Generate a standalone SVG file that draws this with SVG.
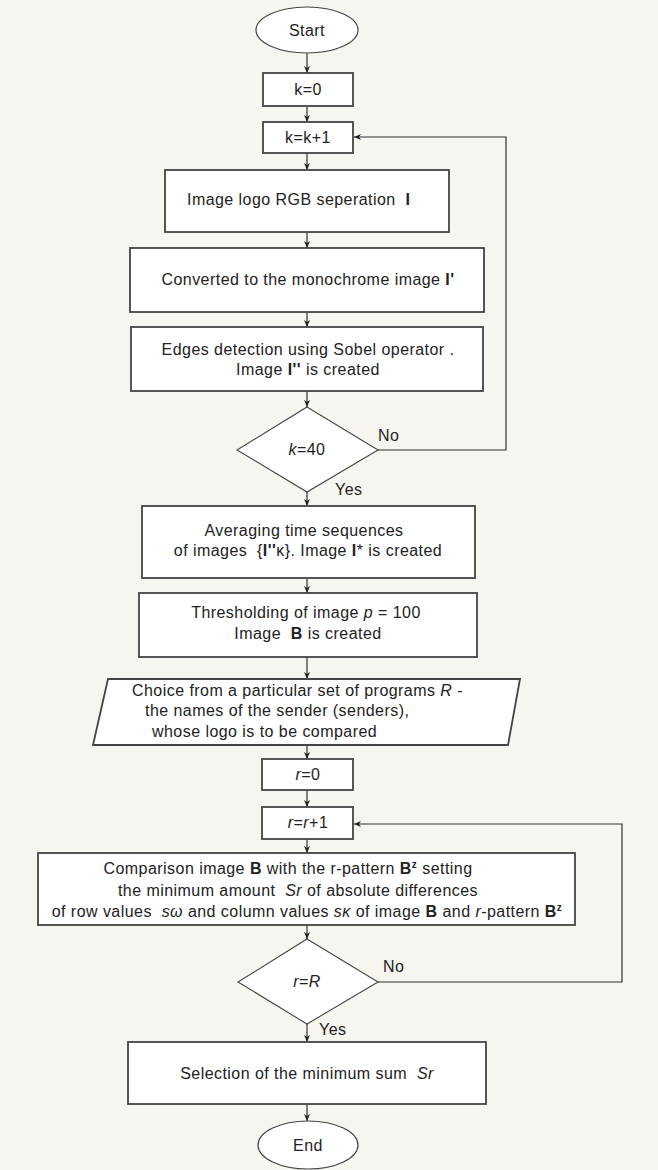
<svg xmlns="http://www.w3.org/2000/svg" width="658" height="1170" viewBox="0 0 658 1170">
<style>
text{font-family:"Liberation Sans",Arial,sans-serif;font-size:16px;fill:#222;letter-spacing:0.45px;white-space:pre}
.c{text-anchor:middle}
.b{font-weight:bold}
.i{font-style:italic}
.box{fill:#fff;stroke:#444;stroke-width:1.8}
.dia{fill:#fff;stroke:#444;stroke-width:1.1}
.ell{fill:#fff;stroke:#444;stroke-width:1.2}
.con{fill:none;stroke:#333;stroke-width:1.2}
.sup{font-size:10px;font-weight:bold}
</style>
<defs>
<marker id="ah" markerWidth="8" markerHeight="7" refX="7" refY="3.5" orient="auto" markerUnits="userSpaceOnUse">
<path d="M0,0.5 L7,3.5 L0,6.5 L2,3.5 z" fill="#222"/>
</marker>
</defs>
<rect width="658" height="1170" fill="#f7f5f0"/>
<g id="connectors">
<line class="con" x1="307" y1="53" x2="307" y2="73" marker-end="url(#ah)"/>
<line class="con" x1="307" y1="106" x2="307" y2="122" marker-end="url(#ah)"/>
<line class="con" x1="307" y1="153" x2="307" y2="170" marker-end="url(#ah)"/>
<line class="con" x1="307" y1="232" x2="307" y2="248" marker-end="url(#ah)"/>
<line class="con" x1="307" y1="312" x2="307" y2="327" marker-end="url(#ah)"/>
<line class="con" x1="307" y1="391" x2="307" y2="407" marker-end="url(#ah)"/>
<line class="con" x1="307" y1="492" x2="307" y2="506" marker-end="url(#ah)"/>
<line class="con" x1="307" y1="578" x2="307" y2="593" marker-end="url(#ah)"/>
<line class="con" x1="307" y1="657" x2="307" y2="679" marker-end="url(#ah)"/>
<line class="con" x1="307" y1="745" x2="307" y2="759" marker-end="url(#ah)"/>
<line class="con" x1="307" y1="790" x2="307" y2="807" marker-end="url(#ah)"/>
<line class="con" x1="307" y1="839" x2="307" y2="853" marker-end="url(#ah)"/>
<line class="con" x1="307" y1="925" x2="307" y2="939" marker-end="url(#ah)"/>
<line class="con" x1="307" y1="1024" x2="307" y2="1042" marker-end="url(#ah)"/>
<line class="con" x1="307" y1="1104" x2="307" y2="1121" marker-end="url(#ah)"/>
<polyline class="con" points="378,450 506,450 506,137 354,137" marker-end="url(#ah)"/>
<polyline class="con" points="378,982 622,982 622,824 354,824" marker-end="url(#ah)"/>
<text x="378" y="441">No</text>
<text x="335" y="495">Yes</text>
<text x="383" y="972">No</text>
<text x="319" y="1035">Yes</text>
</g>
<g id="start">
<ellipse class="ell" cx="307" cy="30" rx="51" ry="23"/>
<text class="c" x="307" y="36">Start</text>
</g>
<g id="k0">
<rect class="box" x="263" y="73" width="90" height="33"/>
<text class="c" x="308" y="95">k=0</text>
</g>
<g id="kinc">
<rect class="box" x="263" y="122" width="90" height="31"/>
<text class="c" x="308" y="143">k=k+1</text>
</g>
<g id="rgb">
<rect class="box" x="165" y="170" width="284" height="62"/>
<text x="187" y="205">Image logo RGB seperation  <tspan class="b">I</tspan></text>
</g>
<g id="mono">
<rect class="box" x="130" y="248" width="354" height="64"/>
<text class="c" x="308" y="285">Converted to the monochrome image <tspan class="b">I'</tspan></text>
</g>
<g id="edges">
<rect class="box" x="131" y="327" width="352" height="64"/>
<text class="c" x="308" y="355">Edges detection using Sobel operator .</text>
<text class="c" x="308" y="375">Image <tspan class="b">I''</tspan> is created</text>
</g>
<g id="k40">
<polygon class="dia" points="307,407 378,450 307,492 237,450"/>
<text class="c" x="307" y="455"><tspan class="i">k</tspan>=40</text>
</g>
<g id="avg">
<rect class="box" x="142" y="506" width="333" height="72"/>
<text class="c" x="304" y="536">Averaging time sequences</text>
<text class="c" x="308" y="556">of images  {<tspan class="b">I''</tspan>κ}. Image <tspan class="b">I</tspan>* is created</text>
</g>
<g id="thr">
<rect class="box" x="139" y="593" width="338" height="64"/>
<text class="c" x="306" y="618">Thresholding of image <tspan class="i">p</tspan> = 100</text>
<text class="c" x="308" y="639">Image  <tspan class="b">B</tspan> is created</text>
</g>
<g id="choice">
<polygon class="box" points="108,679 520,679 508,745 93,745"/>
<text x="132" y="696">Choice from a particular set of programs <tspan class="i">R</tspan> -</text>
<text x="145" y="716">the names of the sender (senders),</text>
<text x="152" y="737">whose logo is to be compared</text>
</g>
<g id="r0">
<rect class="box" x="262" y="759" width="91" height="31"/>
<text class="c" x="308" y="780"><tspan class="i">r</tspan>=0</text>
</g>
<g id="rinc">
<rect class="box" x="262" y="807" width="91" height="32"/>
<text class="c" x="308" y="828"><tspan class="i">r</tspan>=<tspan class="i">r</tspan>+1</text>
</g>
<g id="cmp">
<rect class="box" x="38" y="853" width="537" height="72"/>
<text class="c" x="288" y="874">Comparison image <tspan class="b">B</tspan> with the r-pattern <tspan class="b">B</tspan><tspan class="sup" dy="-6">z</tspan><tspan dy="6"> setting</tspan></text>
<text class="c" x="298" y="896">the minimum amount  <tspan class="i">Sr</tspan> of absolute differences</text>
<text class="c" x="307" y="917">of row values  <tspan class="i">sω</tspan> and column values <tspan class="i">sκ</tspan> of image <tspan class="b">B</tspan> and <tspan class="i">r</tspan>-pattern <tspan class="b">B</tspan><tspan class="sup" dy="-6">z</tspan></text>
</g>
<g id="rR">
<polygon class="dia" points="307,939 378,982 307,1024 238,982"/>
<text class="c" x="307" y="987"><tspan class="i">r</tspan>=<tspan class="i">R</tspan></text>
</g>
<g id="sel">
<rect class="box" x="128" y="1042" width="358" height="62"/>
<text class="c" x="307" y="1079">Selection of the minimum sum  <tspan class="i">Sr</tspan></text>
</g>
<g id="end">
<ellipse class="ell" cx="308" cy="1145" rx="50" ry="24"/>
<text class="c" x="308" y="1151">End</text>
</g>
</svg>
